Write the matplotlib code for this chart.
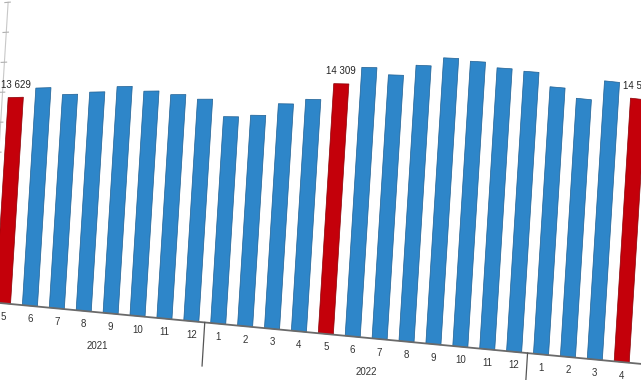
import numpy as np
import matplotlib
matplotlib.use("Agg")
import matplotlib.pyplot as plt
import matplotlib.transforms as mtransforms

plt.rcParams['font.family'] = ['Liberation Sans', 'DejaVu Sans']

# данные: май 2021 - апрель 2023
months = ['5', '6', '7', '8', '9', '10', '11', '12',
          '1', '2', '3', '4', '5', '6', '7', '8', '9', '10', '11', '12',
          '1', '2', '3', '4']
values = [13629, 14208, 13739, 13856, 14165, 13853, 13619, 13336,
          12296, 12400, 13095, 13379, 14309, 15274, 14892, 15484,
          15962, 15846, 15570, 15484, 14744, 14239, 15346, 14550]
# подпись 2023 в кадр не попадает
years = ['2021', '2022']
year_first = [0, 8]
year_last = [7, 19]
red_bars = [0, 12, 23]

# the picture is a slanted shot of the chart:
# (bar index, value) -> picture pixels
X0, DX = 3.0, 26.9          # bottom centre of first bar, step between bars
Y0, SLOPE = 303.0, 0.095    # baseline falls to the right
LEAN = 0.062                # bars lean to the right going up
K = (66.2, -1.051, 0.0251)  # value units per pixel, changes along the row


class Warp(mtransforms.Transform):
    input_dims = 2
    output_dims = 2

    def transform_non_affine(self, pts):
        pts = np.asarray(pts, dtype=float)
        u, v = pts[:, 0], pts[:, 1]
        h = v / (K[0] + K[1] * u + K[2] * u ** 2)
        xb = X0 + DX * u
        return np.column_stack([xb + LEAN * h, Y0 + SLOPE * xb - h])


fig = plt.figure(figsize=(6.41, 3.80), dpi=100, facecolor='white')
ax = fig.add_axes([0, 0, 1, 1])
ax.set_xlim(0, 641)
ax.set_ylim(380, 0)
ax.axis('off')
warp = Warp() + ax.transData

x = np.arange(len(values))
colors = ['#c4000a' if i in red_bars else '#2e86c9' for i in x]
edges = ['#8a0006' if i in red_bars else '#1f5f92' for i in x]
ax.bar(x, values, width=0.56, color=colors, edgecolor=edges, linewidth=0.5,
       transform=warp)

# оси
ax.plot([-0.5, -0.5], [0, 20000], color='#c8c8c8', lw=0.8, transform=warp)
for t in range(0, 20001, 2000):
    ax.plot([-0.62, -0.42], [t, t], color='#b0b0b0', lw=0.8, transform=warp)
ax.plot([-1, 24], [0, 0], color='#6a6a6a', lw=1.3, transform=warp)
for s in [-0.5, 7.5, 19.5]:
    ax.plot([s, s], [0, -2600], color='#555555', lw=0.9, transform=warp)

# подписи
month_tr = mtransforms.offset_copy(warp, fig=fig, y=-13.5, units='dots')
year_tr = mtransforms.offset_copy(warp, fig=fig, y=-34, units='dots')
value_tr = mtransforms.offset_copy(warp, fig=fig, y=12.5, units='dots')

for i, m in enumerate(months):
    ax.text(i, 0, m, transform=month_tr, ha='center', va='center',
            fontsize=7, color='#333333')
for y, a, b in zip(years, year_first, year_last):
    ax.text((a + b) / 2, 0, y, transform=year_tr, ha='center', va='center',
            fontsize=7, color='#333333')
for i in red_bars:
    lbl = f'{values[i]:,}'.replace(',', ' ')
    ax.text(i, values[i], lbl, transform=value_tr, ha='center', va='center',
            fontsize=7, color='#222222')

fig.savefig('out.png', dpi=100, facecolor='white')
